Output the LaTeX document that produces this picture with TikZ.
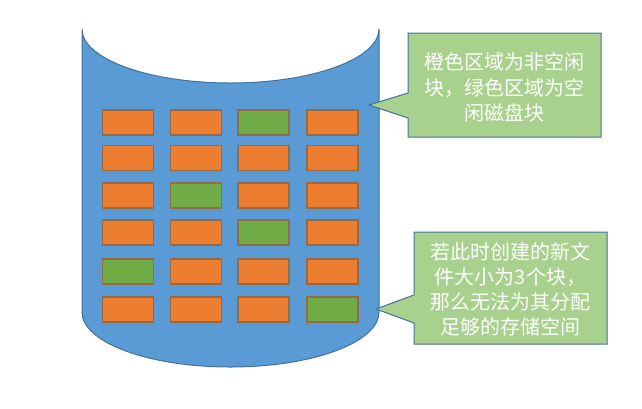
\documentclass[tikz,border=0pt]{standalone}
\usepackage{fontspec}
\newfontfamily\cjk{Noto Sans CJK SC}
\definecolor{diskblue}{HTML}{5B9BD5}
\definecolor{diskline}{HTML}{41719C}
\definecolor{busyfill}{HTML}{ED7D31}
\definecolor{freefill}{HTML}{70AD47}
\definecolor{blockline}{HTML}{946B47}
\definecolor{notefill}{HTML}{A9D18E}
\tikzset{
  blk/.style={draw=blockline, line width=0.9pt, minimum width=38.25pt, minimum height=18.75pt, inner sep=0pt},
  busy/.style={blk, fill=busyfill},
  free/.style={blk, fill=freefill},
  note/.style={fill=notefill, draw=diskline, line width=0.75pt, line join=miter},
  notetext/.style={text=white, font=\cjk\fontsize{15pt}{18.9pt}\selectfont, align=center, inner sep=0pt}
}
\begin{document}
\begin{tikzpicture}[x=0.75pt,y=-0.75pt]
\useasboundingbox (0,0) rectangle (642,408);
% disk cylinder
\draw[fill=diskblue, draw=diskline, line width=0.75pt]
  (82,29) -- (82,312)
  .. controls (82,342.4) and (148.5,367) .. (230.5,367)
  .. controls (312.5,367) and (379,342.4) .. (379,312)
  -- (379,29)
  .. controls (379,58.8) and (312.5,83) .. (230.5,83)
  .. controls (148.5,83) and (82,58.8) .. (82,29) -- cycle;
% blocks
\foreach \r/\y in {1/122.5,2/158,3/195.5,4/232.5,5/271.5,6/309.5}{
  \foreach \c/\x in {1/128,2/196,3/263.5,4/332.5}{
    \ifnum\r\c=13 \def\st{free}\else
    \ifnum\r\c=32 \def\st{free}\else
    \ifnum\r\c=43 \def\st{free}\else
    \ifnum\r\c=51 \def\st{free}\else
    \ifnum\r\c=64 \def\st{free}\else
    \def\st{busy}\fi\fi\fi\fi\fi
    \node[\st] (b\r\c) at (\x,\y) {};
  }
}
% callout 1
\coordinate (tipA) at (369,105);
\draw[note] (408,33) -- (601,33) -- (601,137) -- (408,137) -- (408,118) -- (tipA) -- (408,93) -- cycle;
\node[notetext] (noteA) at (504.5,87.5) {橙色区域为非空闲\\块，绿色区域为空\\闲磁盘块};
% callout 2
\coordinate (tipB) at (376,309);
\draw[note] (414,232) -- (607,232) -- (607,344) -- (414,344) -- (414,323) -- (tipB) -- (414,295) -- cycle;
\node[notetext] (noteB) at (510.5,289.5) {若此时创建的新文\\件大小为3个块，\\那么无法为其分配\\足够的存储空间};
\end{tikzpicture}
\end{document}
